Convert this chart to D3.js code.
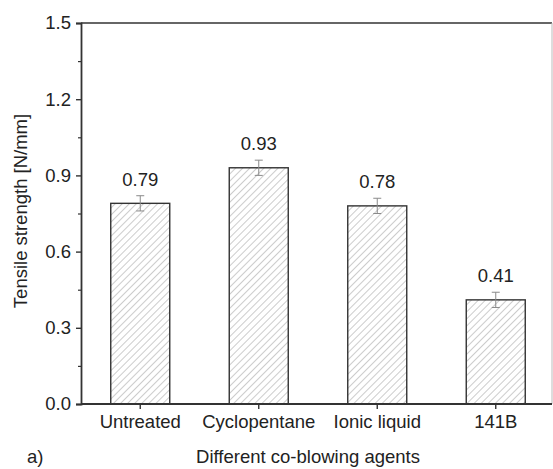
<!DOCTYPE html>
<html>
<head>
<meta charset="utf-8">
<script src="https://cdn.jsdelivr.net/npm/d3@7"></script>
<style>
  html, body { margin: 0; padding: 0; background: #fff; }
  svg { display: block; font-family: "Liberation Sans", Arial, sans-serif; }
</style>
</head>
<body>
<svg id="chart" width="553" height="469"></svg>
<script>
// Tensile strength per co-blowing agent
const categories = ["Untreated", "Cyclopentane", "Ionic liquid", "141B"];
const strength = [0.79, 0.93, 0.78, 0.41];
const strengthErr = [0.03, 0.03, 0.03, 0.03];
const yTicks = [0.0, 0.3, 0.6, 0.9, 1.2, 1.5];
const yMinorTicks = [0.15, 0.45, 0.75, 1.05, 1.35];

const FS = 18.5;
const FONT = "Liberation Sans, Arial, sans-serif";
const svg = d3.select("#chart");
const plot = { left: 81, right: 552, top: 23, bottom: 404 };

const x = d3.scaleBand()
  .domain(categories)
  .range([plot.left, plot.right + 3])
  .paddingInner(0.5)
  .paddingOuter(0.25);

const y = d3.scaleLinear().domain([0, 1.5]).range([plot.bottom, plot.top]);

// diagonal hatch fill
const defs = svg.append("defs");
const pat = defs.append("pattern")
  .attr("id", "hatch")
  .attr("patternUnits", "userSpaceOnUse")
  .attr("width", 5).attr("height", 5)
  .attr("patternTransform", "rotate(45)");
pat.append("rect").attr("width", 5).attr("height", 5).attr("fill", "#fff");
pat.append("line")
  .attr("x1", 0).attr("y1", 0).attr("x2", 0).attr("y2", 5)
  .attr("stroke", "#9a9a9a").attr("stroke-width", 1);

// bars
const bw = 59;
svg.append("g").selectAll("rect")
  .data(categories)
  .join("rect")
  .attr("x", (d) => x(d) + x.bandwidth() / 2 - bw / 2)
  .attr("y", (d, i) => y(strength[i]))
  .attr("width", bw)
  .attr("height", (d, i) => y(0) - y(strength[i]))
  .attr("fill", "url(#hatch)")
  .attr("stroke", "#333")
  .attr("stroke-width", 1.4);

// error bars
const eg = svg.append("g").attr("stroke", "#8a8a8a").attr("stroke-width", 1);
categories.forEach((c, i) => {
  const cx = x(c) + x.bandwidth() / 2;
  const y1 = y(strength[i] + strengthErr[i]);
  const y0 = y(strength[i] - strengthErr[i]);
  eg.append("line").attr("x1", cx).attr("x2", cx).attr("y1", y1).attr("y2", y0);
  eg.append("line").attr("x1", cx - 4).attr("x2", cx + 4).attr("y1", y1).attr("y2", y1);
  eg.append("line").attr("x1", cx - 4).attr("x2", cx + 4).attr("y1", y0).attr("y2", y0);
});

// value labels
svg.append("g").selectAll("text")
  .data(categories)
  .join("text")
  .attr("x", (d) => x(d) + x.bandwidth() / 2)
  .attr("y", (d, i) => y(strength[i] + strengthErr[i]) - 10)
  .attr("text-anchor", "middle")
  .attr("font-size", FS)
  .attr("fill", "#222")
  .text((d, i) => strength[i].toFixed(2));

// frame
svg.append("line")
  .attr("x1", plot.left).attr("x2", plot.right)
  .attr("y1", plot.top).attr("y2", plot.top)
  .attr("stroke", "#333").attr("stroke-width", 1.6);
svg.append("line")
  .attr("x1", plot.right).attr("x2", plot.right)
  .attr("y1", plot.top).attr("y2", plot.bottom)
  .attr("stroke", "#bbb").attr("stroke-width", 1);

// y axis
const yAxis = svg.append("g")
  .attr("transform", `translate(${plot.left},0)`)
  .call(d3.axisLeft(y).tickValues(yTicks).tickFormat(d3.format(".1f")).tickSize(5).tickPadding(5));
yAxis.select(".domain").attr("stroke", "#333").attr("stroke-width", 1.8);
yAxis.selectAll(".tick line").attr("stroke", "#333").attr("stroke-width", 1.4);
yAxis.selectAll("text").attr("font-size", FS).attr("fill", "#222").attr("font-family", FONT);
svg.append("g")
  .attr("transform", `translate(${plot.left},0)`)
  .call(d3.axisLeft(y).tickValues(yMinorTicks).tickFormat("").tickSize(3))
  .call((g) => g.select(".domain").remove())
  .selectAll(".tick line").attr("stroke", "#333").attr("stroke-width", 1.2);

// x axis
const xAxis = svg.append("g")
  .attr("transform", `translate(0,${plot.bottom})`)
  .call(d3.axisBottom(x).tickSize(5).tickPadding(6).tickSizeOuter(0));
xAxis.select(".domain").attr("stroke", "#333").attr("stroke-width", 1.8)
  .attr("d", `M${plot.left},0H${plot.right}`);
xAxis.selectAll(".tick line").attr("stroke", "#333").attr("stroke-width", 1.4);
xAxis.selectAll("text").attr("font-size", FS).attr("fill", "#222").attr("font-family", FONT);

// axis titles
svg.append("text")
  .attr("transform", `translate(27,211) rotate(-90)`)
  .attr("text-anchor", "middle")
  .attr("font-size", FS)
  .attr("fill", "#222")
  .text("Tensile strength [N/mm]");
svg.append("text")
  .attr("x", 308).attr("y", 463)
  .attr("text-anchor", "middle")
  .attr("font-size", FS)
  .attr("fill", "#222")
  .text("Different co-blowing agents");
svg.append("text")
  .attr("x", 27).attr("y", 463)
  .attr("font-size", FS)
  .attr("fill", "#222")
  .text("a)");
</script>
</body>
</html>
